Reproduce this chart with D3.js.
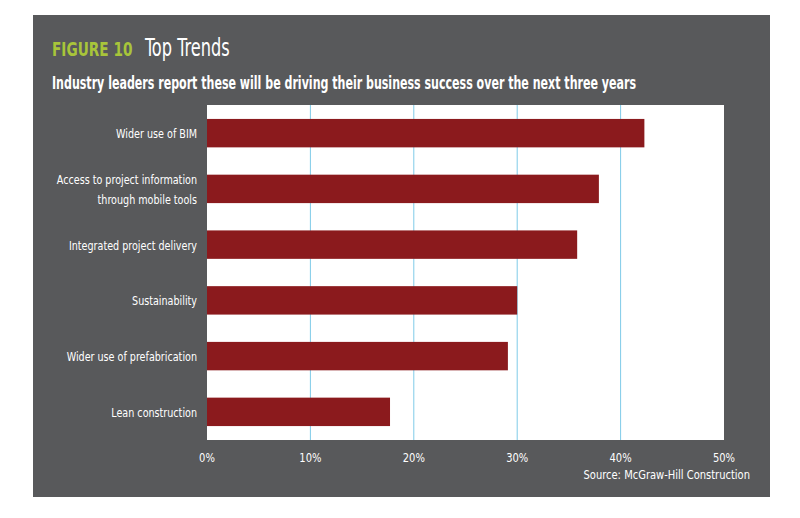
<!DOCTYPE html>
<html><head><meta charset="utf-8">
<script src="https://cdn.jsdelivr.net/npm/d3@7"></script>
<style>body{margin:0;background:#fff}</style>
</head><body>
<svg id="c" width="800" height="518"></svg>
<script>
const categories = ['Wider use of BIM', 'Access to project information|through mobile tools', 'Integrated project delivery', 'Sustainability', 'Wider use of prefabrication', 'Lean construction'];
const values = [42.3, 37.9, 35.8, 30.0, 29.1, 17.7];
const ticks = [0, 10, 20, 30, 40, 50];

const svg = d3.select('#c');
const font = "'Liberation Sans Narrow', 'DejaVu Sans Condensed', sans-serif";

// squeeze text horizontally, narrow font isn't installed
function condense(sel, k) {
  sel.each(function () {
    const w = this.getComputedTextLength();
    d3.select(this).attr('textLength', w * k).attr('lengthAdjust', 'spacingAndGlyphs');
  });
}

// panel
svg.append('rect').attr('x', 33).attr('y', 15).attr('width', 737).attr('height', 482).attr('fill', '#58595b');

const x = d3.scaleLinear().domain([0, 50]).range([207, 724]);
const y = d3.scaleBand().domain(categories).range([105, 440]).paddingInner(0.49).paddingOuter(0.25);

svg.append('rect').attr('x', x(0)).attr('y', 105).attr('width', x(50) - x(0)).attr('height', 335).attr('fill', '#fff');

// grid
svg.selectAll('.grid').data(ticks.slice(1, 5)).enter().append('line')
  .attr('x1', d => x(d)).attr('x2', d => x(d)).attr('y1', 105).attr('y2', 440)
  .attr('stroke', '#7fcbe8').attr('stroke-width', 1);

svg.selectAll('.bar').data(values).enter().append('rect')
  .attr('x', x(0)).attr('y', (d, i) => y(categories[i]))
  .attr('width', d => x(d) - x(0)).attr('height', y.bandwidth())
  .attr('fill', '#8b1a1d');

// category labels
categories.forEach(c => {
  const lines = c.split('|');
  const cy = y(c) + y.bandwidth() / 2;
  lines.forEach((l, j) => {
    svg.append('text').attr('text-anchor', 'end').attr('fill', '#fff')
      .style('font-family', font).style('font-size', '13px')
      .attr('x', 197).attr('y', cy + 5 + (j - (lines.length - 1) / 2) * 20).text(l)
      .call(condense, 0.82);
  });
});

// x tick labels
svg.selectAll('.tick').data(ticks).enter().append('text')
  .attr('x', d => x(d)).attr('y', 462).attr('text-anchor', 'middle')
  .attr('fill', '#fff').style('font-family', font).style('font-size', '13px')
  .text(d => d + '%').call(condense, 0.85);

svg.append('text').attr('x', 750).attr('y', 479).attr('text-anchor', 'end')
  .attr('fill', '#fff').style('font-family', font).style('font-size', '13px')
  .text('Source: McGraw-Hill Construction').call(condense, 0.85);

// titles
svg.append('text').attr('x', 52).attr('y', 56).attr('fill', '#a8c53a')
  .style('font-family', font).style('font-size', '19px').style('font-weight', 'bold')
  .text('FIGURE 10').call(condense, 0.8);
svg.append('text').attr('x', 145).attr('y', 56).attr('fill', '#fff')
  .style('font-family', font).style('font-size', '25px').style('font-weight', '300')
  .text('Top Trends').call(condense, 0.72);

svg.append('text').attr('x', 52).attr('y', 89).attr('fill', '#fff')
  .style('font-family', font).style('font-size', '17px').style('font-weight', 'bold')
  .text('Industry leaders report these will be driving their business success over the next three years')
  .attr('textLength', 584).attr('lengthAdjust', 'spacingAndGlyphs');
</script>
</body></html>
